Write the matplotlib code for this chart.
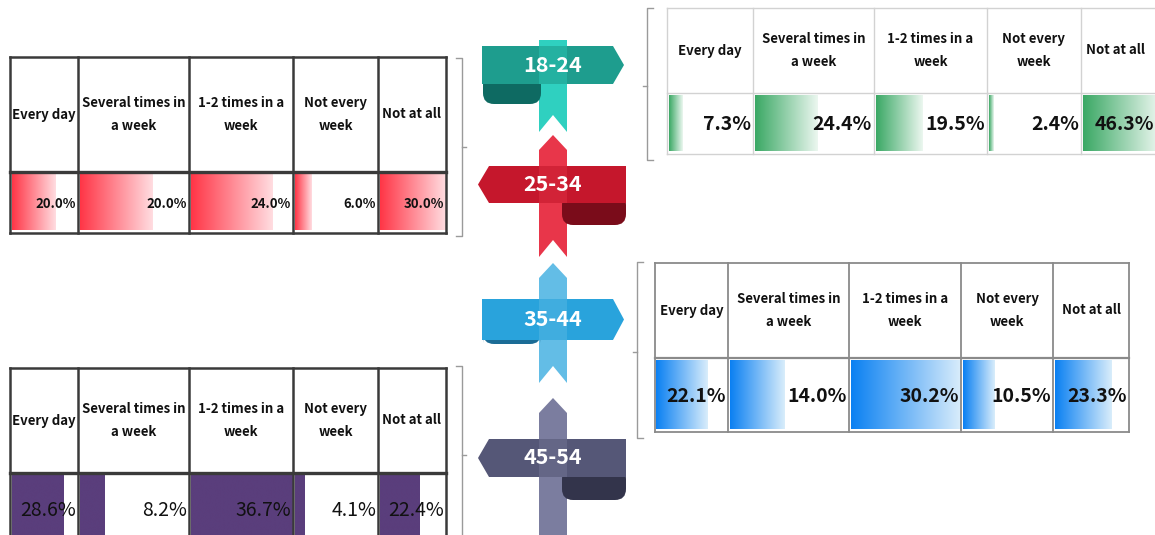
import numpy as np
import matplotlib
matplotlib.use("Agg")
import matplotlib.pyplot as plt
from matplotlib.patches import Polygon, FancyBboxPatch
from matplotlib.colors import LinearSegmentedColormap

plt.rcParams['font.family'] = ['Noto Sans CJK SC', 'DejaVu Sans']

# ---------------- data ----------------
categories = ["Every day", "Several times in\na week", "1-2 times in a\nweek",
              "Not every\nweek", "Not at all"]
age_groups = ["18-24", "25-34", "35-44", "45-54"]
pct_18_24 = [7.3, 24.4, 19.5, 2.4, 46.3]
pct_25_34 = [20.0, 20.0, 24.0, 6.0, 30.0]
pct_35_44 = [22.1, 14.0, 30.2, 10.5, 23.3]
pct_45_54 = [28.6, 8.2, 36.7, 4.1, 22.4]

W, H = 1155, 535
fig = plt.figure(figsize=(W / 100, H / 100), dpi=100)
bg = fig.add_axes([0, 0, 1, 1])
bg.set_xlim(0, W)
bg.set_ylim(H, 0)
bg.axis('off')
bg.set_zorder(0)

ov = fig.add_axes([0, 0, 1, 1])
ov.set_xlim(0, W)
ov.set_ylim(H, 0)
ov.axis('off')
ov.set_zorder(5)
ov.patch.set_alpha(0)

# ---------------- table layout (pixels) ----------------
tables = {
    "18-24": dict(values=pct_18_24, xs=[667, 753, 874, 987, 1081, 1160],
                  ytop=8, ymid=93, ybot=154, line='#d2d2d2', lw=1.0, mid_lw=1.0,
                  cmap=('#3aa864', '#ecf7f0'), vfs=14, vweight='bold', hfs=9.5,
                  bracket=dict(x=647, y0=8, y1=160, side='left', ym=86)),
    "25-34": dict(values=pct_25_34, xs=[10, 78, 189, 293, 378, 446],
                  ytop=57, ymid=172, ybot=233, line='#3a3a3a', lw=1.8, mid_lw=2.4,
                  cmap=('#ff3546', '#ffdde1'), vfs=9.5, vweight='bold', hfs=9.5,
                  bracket=dict(x=462, y0=58, y1=236, side='right', ym=147)),
    "35-44": dict(values=pct_35_44, xs=[655, 728, 849, 961, 1053, 1129],
                  ytop=263, ymid=358, ybot=432, line='#8a8a8a', lw=1.3, mid_lw=1.6,
                  cmap=('#0a80f2', '#d9edfb'), vfs=14, vweight='bold', hfs=9.5,
                  bracket=dict(x=637, y0=262, y1=438, side='left', ym=352)),
    "45-54": dict(values=pct_45_54, xs=[10, 78, 189, 293, 378, 446],
                  ytop=368, ymid=473, ybot=545, line='#3a3a3a', lw=1.8, mid_lw=2.4,
                  cmap=('#5a3e7c', '#5a3e7c'), vfs=14, vweight='medium', hfs=9.5,
                  bracket=dict(x=462, y0=366, y1=540, side='right', ym=455)),
}

grad = np.linspace(0, 1, 256).reshape(1, -1)

for name, t in tables.items():
    xs, yt, ym, yb = t['xs'], t['ytop'], t['ymid'], t['ybot']
    lc, lw = t['line'], t['lw']
    ov.plot([xs[0], xs[-1]], [yt, yt], color=lc, lw=lw, zorder=5)
    ov.plot([xs[0], xs[-1]], [yb, yb], color=lc, lw=lw, zorder=5)
    ov.plot([xs[0], xs[-1]], [ym, ym], color=lc, lw=t['mid_lw'], zorder=5)
    for x in xs:
        ov.plot([x, x], [yt, yb], color=lc, lw=lw, zorder=5)
    gmax = max(t['values'])
    cm = LinearSegmentedColormap.from_list(name, list(t['cmap']))
    for i, (cat, v) in enumerate(zip(categories, t['values'])):
        x0, x1 = xs[i], xs[i + 1]
        hx = (x0 + min(x1, W - 6)) / 2
        ov.text(hx, (yt + ym) / 2, cat, ha='center', va='center',
                fontsize=t['hfs'], fontweight='bold', linespacing=1.8,
                color='#111111', zorder=6)
        cx0, cx1 = x0 + 1.5, x1 - 1
        cy0, cy1 = ym + 2, yb - 3
        cax = fig.add_axes([cx0 / W, 1 - cy1 / H, (cx1 - cx0) / W, (cy1 - cy0) / H])
        cax.axis('off')
        cax.set_zorder(2)
        bar = cax.barh([0.5], [v], height=1.0, left=0, color='none',
                       edgecolor='none')[0]
        img = cax.imshow(grad, extent=[0, v, 0, 1], aspect='auto', cmap=cm,
                         interpolation='bilinear', zorder=1)
        img.set_clip_path(bar)
        cax.set_xlim(0, gmax)
        cax.set_ylim(0, 1)
        tx = min(x1 - 2, W - 1)
        ov.text(tx, (ym + yb) / 2 + 1, f"{v:.1f}%", ha='right',
                va='center', fontsize=t['vfs'], fontweight=t['vweight'],
                color='#111111', zorder=12)
    b = t['bracket']
    bc = '#9a9a9a'
    d = 6 if b['side'] == 'left' else -6
    bg.plot([b['x'] + d, b['x'], b['x'], b['x'] + d], [b['y0'], b['y0'], b['y1'], b['y1']],
            color=bc, lw=1.0, zorder=4)
    bg.plot([b['x'], b['x'] - d * 0.7], [b['ym'], b['ym']], color=bc, lw=1.0, zorder=4)

# ---------------- ribbons ----------------
ribbons = [
    dict(label="18-24", banner='#1e9d8e', strip='#2fd0c0', curl='#0e6a62',
         strip_top=40, strip_bot=132, arrow=False,
         by0=46, by1=84, direction='right', curl_box=(483, 74, 58, 30)),
    dict(label="25-34", banner='#c5172c', strip='#e8364a', curl='#7a0c1a',
         strip_top=135, strip_bot=257, arrow=True,
         by0=166, by1=203, direction='left', curl_box=(562, 194, 64, 31)),
    dict(label="35-44", banner='#29a3dc', strip='#63bde6', curl='#1b6c96',
         strip_top=263, strip_bot=383, arrow=True,
         by0=299, by1=340, direction='right', curl_box=(483, 332, 58, 12)),
    dict(label="45-54", banner='#555777', strip='#7b7d9f', curl='#33344b',
         strip_top=398, strip_bot=560, arrow=True,
         by0=439, by1=477, direction='left', curl_box=(562, 468, 64, 32)),
]
sx0, sx1 = 539, 567
sxm = (sx0 + sx1) / 2
for r in ribbons:
    cx, cy, cw, ch = r['curl_box']
    bg.add_patch(FancyBboxPatch((cx, cy), cw, ch, boxstyle="round,pad=0,rounding_size=11",
                                fc=r['curl'], ec='none', zorder=7))
    y0, y1 = r['by0'], r['by1']
    ymid = (y0 + y1) / 2
    if r['direction'] == 'right':
        pts = [(482, y0), (613, y0), (624, ymid), (613, y1), (482, y1)]
    else:
        pts = [(478, ymid), (489, y0), (626, y0), (626, y1), (489, y1)]
    bg.add_patch(Polygon(pts, closed=True, fc=r['banner'], ec='none', zorder=8))
    top, bot = r['strip_top'], r['strip_bot']
    if r['arrow']:
        spts = [(sxm, top), (sx1, top + 15), (sx1, bot), (sxm, bot - 17),
                (sx0, bot), (sx0, top + 15)]
    else:
        spts = [(sx0, top), (sx1, top), (sx1, bot), (sxm, bot - 17), (sx0, bot)]
    bg.add_patch(Polygon(spts, closed=True, fc=r['strip'], ec='none', zorder=6))
    bg.add_patch(Polygon([(sx0, y0), (sx1, y0), (sx1, y1), (sx0, y1)], closed=True,
                         fc=r['strip'], ec='none', alpha=0.4, zorder=9))
    bg.text(553, ymid, r['label'], ha='center', va='center', color='white',
            fontsize=15.5, fontweight='bold', zorder=10)

fig.savefig("out.png", dpi=100)
